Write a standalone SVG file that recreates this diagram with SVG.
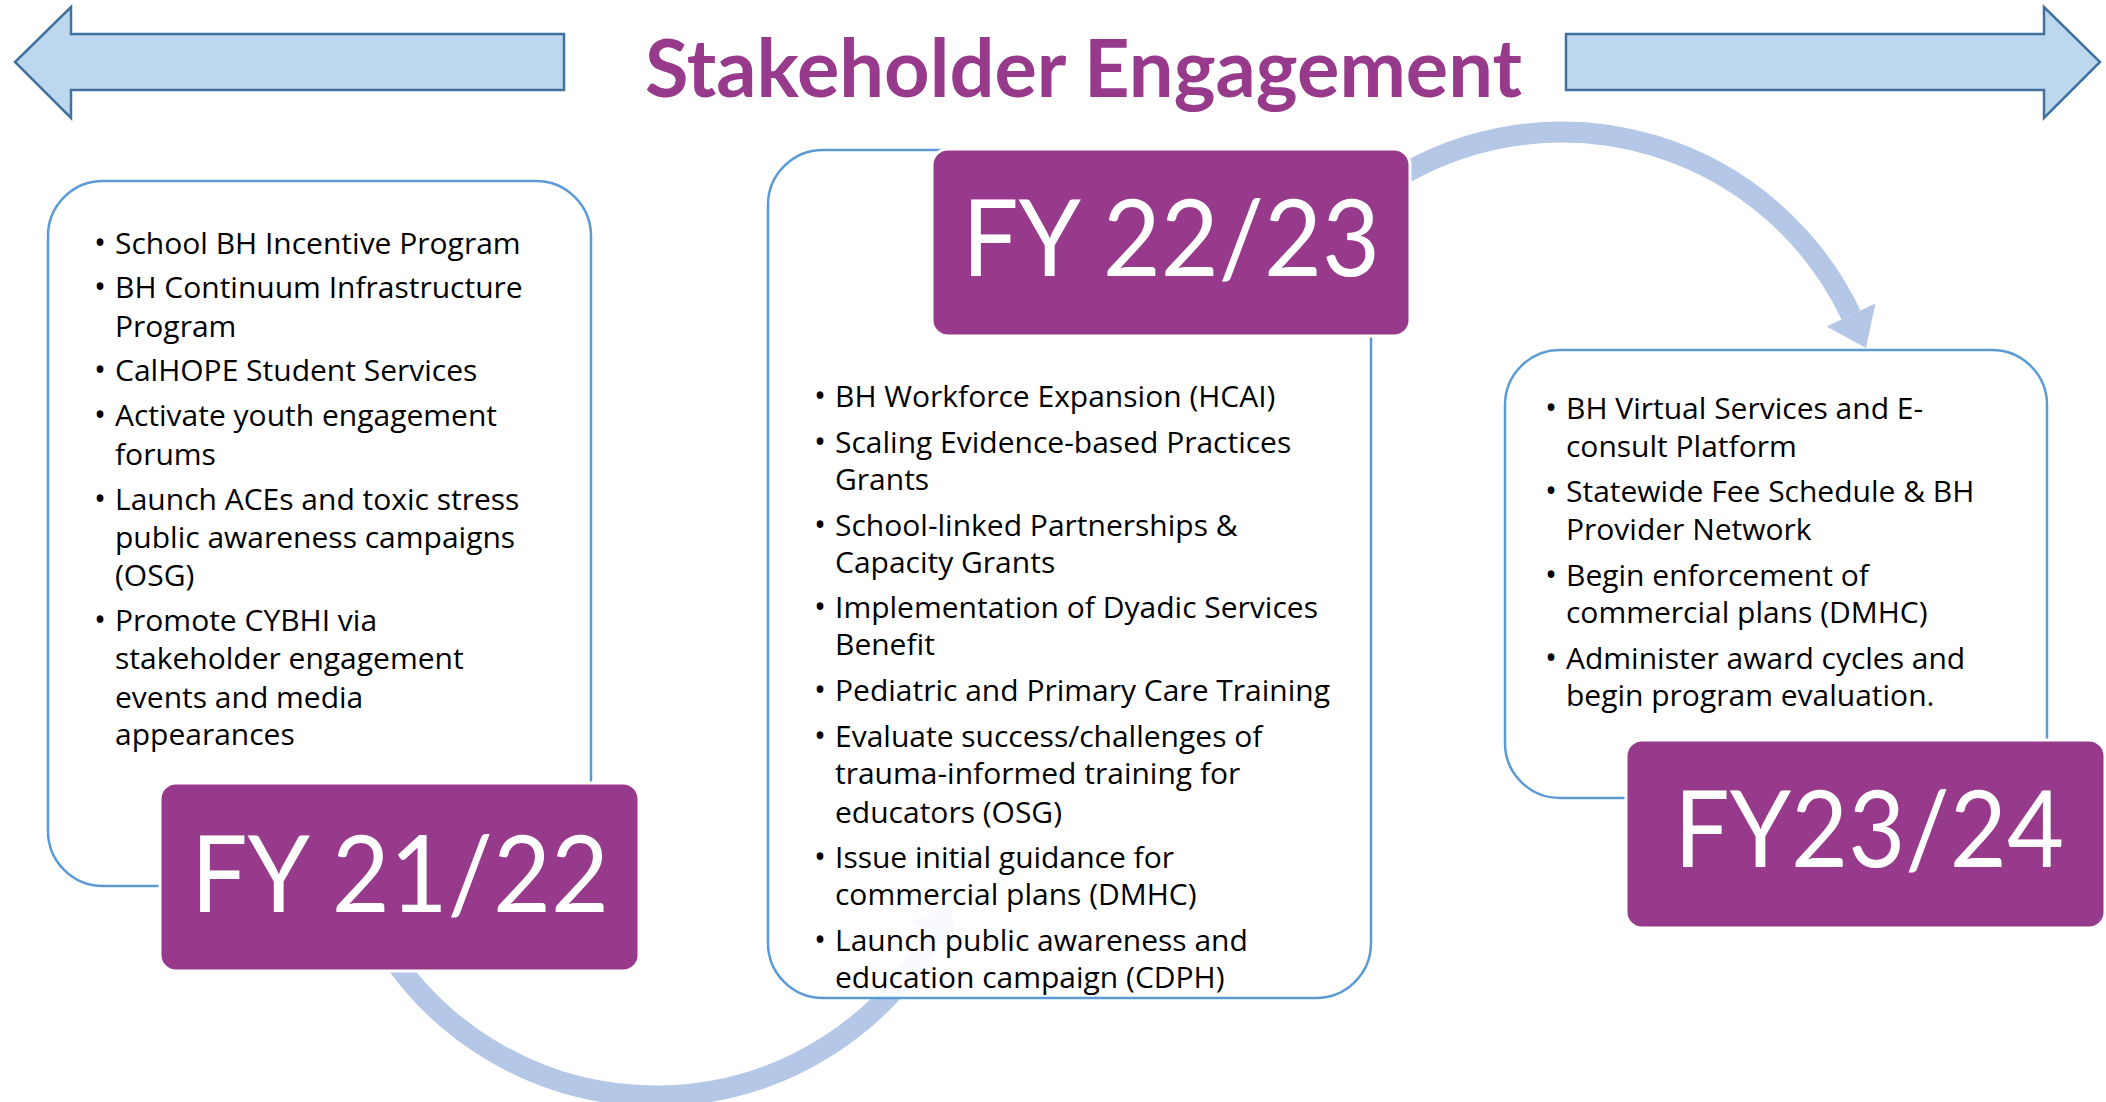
<svg xmlns="http://www.w3.org/2000/svg" width="2106" height="1102" viewBox="0 0 2106 1102">
  <style>
    .band { fill: #BDD7EE; stroke: #41719C; stroke-width: 2.5; }
    .title { font-family: Lato, "Open Sans", sans-serif; font-weight: 700; font-size: 80px; fill: #983A8B; }
    .box { fill: #FFFFFF; stroke: #5B9BD5; stroke-width: 2.5; }
    .year { fill: #983A8B; stroke: #FFFFFF; stroke-width: 3; }
    .yeartext { font-family: Lato, "Open Sans", sans-serif; font-size: 107px; fill: #FFFFFF; }
    .item { font-family: "Open Sans", "Noto Sans", sans-serif; font-size: 30px; fill: #000000; }
    .dot { font-size: 32px; }
    .flow { fill: none; stroke: #B4C7E7; stroke-width: 21; }
    .flowhead { fill: #B4C7E7; }
  </style>

  <!-- header band: two outward arrows and the heading -->
  <g id="header">
    <polygon class="band" points="564,34 71,34 71,7 15,62 71,118 71,90 564,90"/>
    <polygon class="band" points="1566,34 2044,34 2044,7 2100,62 2044,118 2044,90 1566,90"/>
    <text class="title" x="645" y="97" textLength="877" lengthAdjust="spacingAndGlyphs">Stakeholder Engagement</text>
  </g>

  <!-- cycle arrows between the fiscal years -->
  <g id="connectors">
    <path class="flow" d="M 384.6 945.6 A 320 320 0 0 0 933.1 936"/>
    <polygon class="flowhead" points="951.1,904.8 956.5,949.5 909.7,922.5"/>
    <path class="flow" d="M 1395 179 A 320 320 0 0 1 1851 315"/>
    <polygon class="flowhead" points="1866,348 1875.4,303.4 1826.6,326.6"/>
  </g>

  <!-- FY 21/22 -->
  <g id="fy2122">
    <rect class="box" x="48" y="181" width="543" height="705" rx="55" ry="55"/>
    <g class="item">
      <text class="dot" x="94" y="254">•</text><text x="115" y="254">School BH Incentive Program</text>
      <text class="dot" x="94" y="298">•</text><text x="115" y="298">BH Continuum Infrastructure</text>
      <text x="115" y="337">Program</text>
      <text class="dot" x="94" y="381">•</text><text x="115" y="381">CalHOPE Student Services</text>
      <text class="dot" x="94" y="426">•</text><text x="115" y="426">Activate youth engagement</text>
      <text x="115" y="465">forums</text>
      <text class="dot" x="94" y="510">•</text><text x="115" y="510">Launch ACEs and toxic stress</text>
      <text x="115" y="548">public awareness campaigns</text>
      <text x="115" y="586">(OSG)</text>
      <text class="dot" x="94" y="631">•</text><text x="115" y="631">Promote CYBHI via</text>
      <text x="115" y="669">stakeholder engagement</text>
      <text x="115" y="708">events and media</text>
      <text x="115" y="745">appearances</text>
    </g>
    <rect class="year" x="160" y="783" width="479" height="188" rx="16" ry="16"/>
    <text class="yeartext" x="191" y="912" textLength="418" lengthAdjust="spacingAndGlyphs">FY 21/22</text>
  </g>

  <!-- FY 22/23 -->
  <g id="fy2223">
    <rect class="box" x="768" y="150" width="603" height="848" rx="55" ry="55" fill-opacity="0.9"/>
    <g class="item">
      <text class="dot" x="814" y="407">•</text><text x="835" y="407">BH Workforce Expansion (HCAI)</text>
      <text class="dot" x="814" y="453">•</text><text x="835" y="453">Scaling Evidence-based Practices</text>
      <text x="835" y="490">Grants</text>
      <text class="dot" x="814" y="536">•</text><text x="835" y="536">School-linked Partnerships &amp;</text>
      <text x="835" y="573">Capacity Grants</text>
      <text class="dot" x="814" y="618">•</text><text x="835" y="618">Implementation of Dyadic Services</text>
      <text x="835" y="655">Benefit</text>
      <text class="dot" x="814" y="701">•</text><text x="835" y="701">Pediatric and Primary Care Training</text>
      <text class="dot" x="814" y="747">•</text><text x="835" y="747">Evaluate success/challenges of</text>
      <text x="835" y="784">trauma-informed training for</text>
      <text x="835" y="823">educators (OSG)</text>
      <text class="dot" x="814" y="868">•</text><text x="835" y="868">Issue initial guidance for</text>
      <text x="835" y="905">commercial plans (DMHC)</text>
      <text class="dot" x="814" y="951">•</text><text x="835" y="951">Launch public awareness and</text>
      <text x="835" y="988">education campaign (CDPH)</text>
    </g>
    <rect class="year" x="932" y="149" width="478" height="187" rx="16" ry="16"/>
    <text class="yeartext" x="962" y="276" textLength="418" lengthAdjust="spacingAndGlyphs">FY 22/23</text>
  </g>

  <!-- FY 23/24 -->
  <g id="fy2324">
    <rect class="box" x="1505" y="350" width="542" height="448" rx="55" ry="55"/>
    <g class="item">
      <text class="dot" x="1545" y="419">•</text><text x="1566" y="419">BH Virtual Services and E-</text>
      <text x="1566" y="457">consult Platform</text>
      <text class="dot" x="1545" y="502">•</text><text x="1566" y="502">Statewide Fee Schedule &amp; BH</text>
      <text x="1566" y="540">Provider Network</text>
      <text class="dot" x="1545" y="586">•</text><text x="1566" y="586">Begin enforcement of</text>
      <text x="1566" y="623">commercial plans (DMHC)</text>
      <text class="dot" x="1545" y="669">•</text><text x="1566" y="669">Administer award cycles and</text>
      <text x="1566" y="706">begin program evaluation.</text>
    </g>
    <rect class="year" x="1626" y="740" width="479" height="188" rx="16" ry="16"/>
    <text class="yeartext" x="1674" y="867" textLength="390" lengthAdjust="spacingAndGlyphs">FY23/24</text>
  </g>
</svg>
